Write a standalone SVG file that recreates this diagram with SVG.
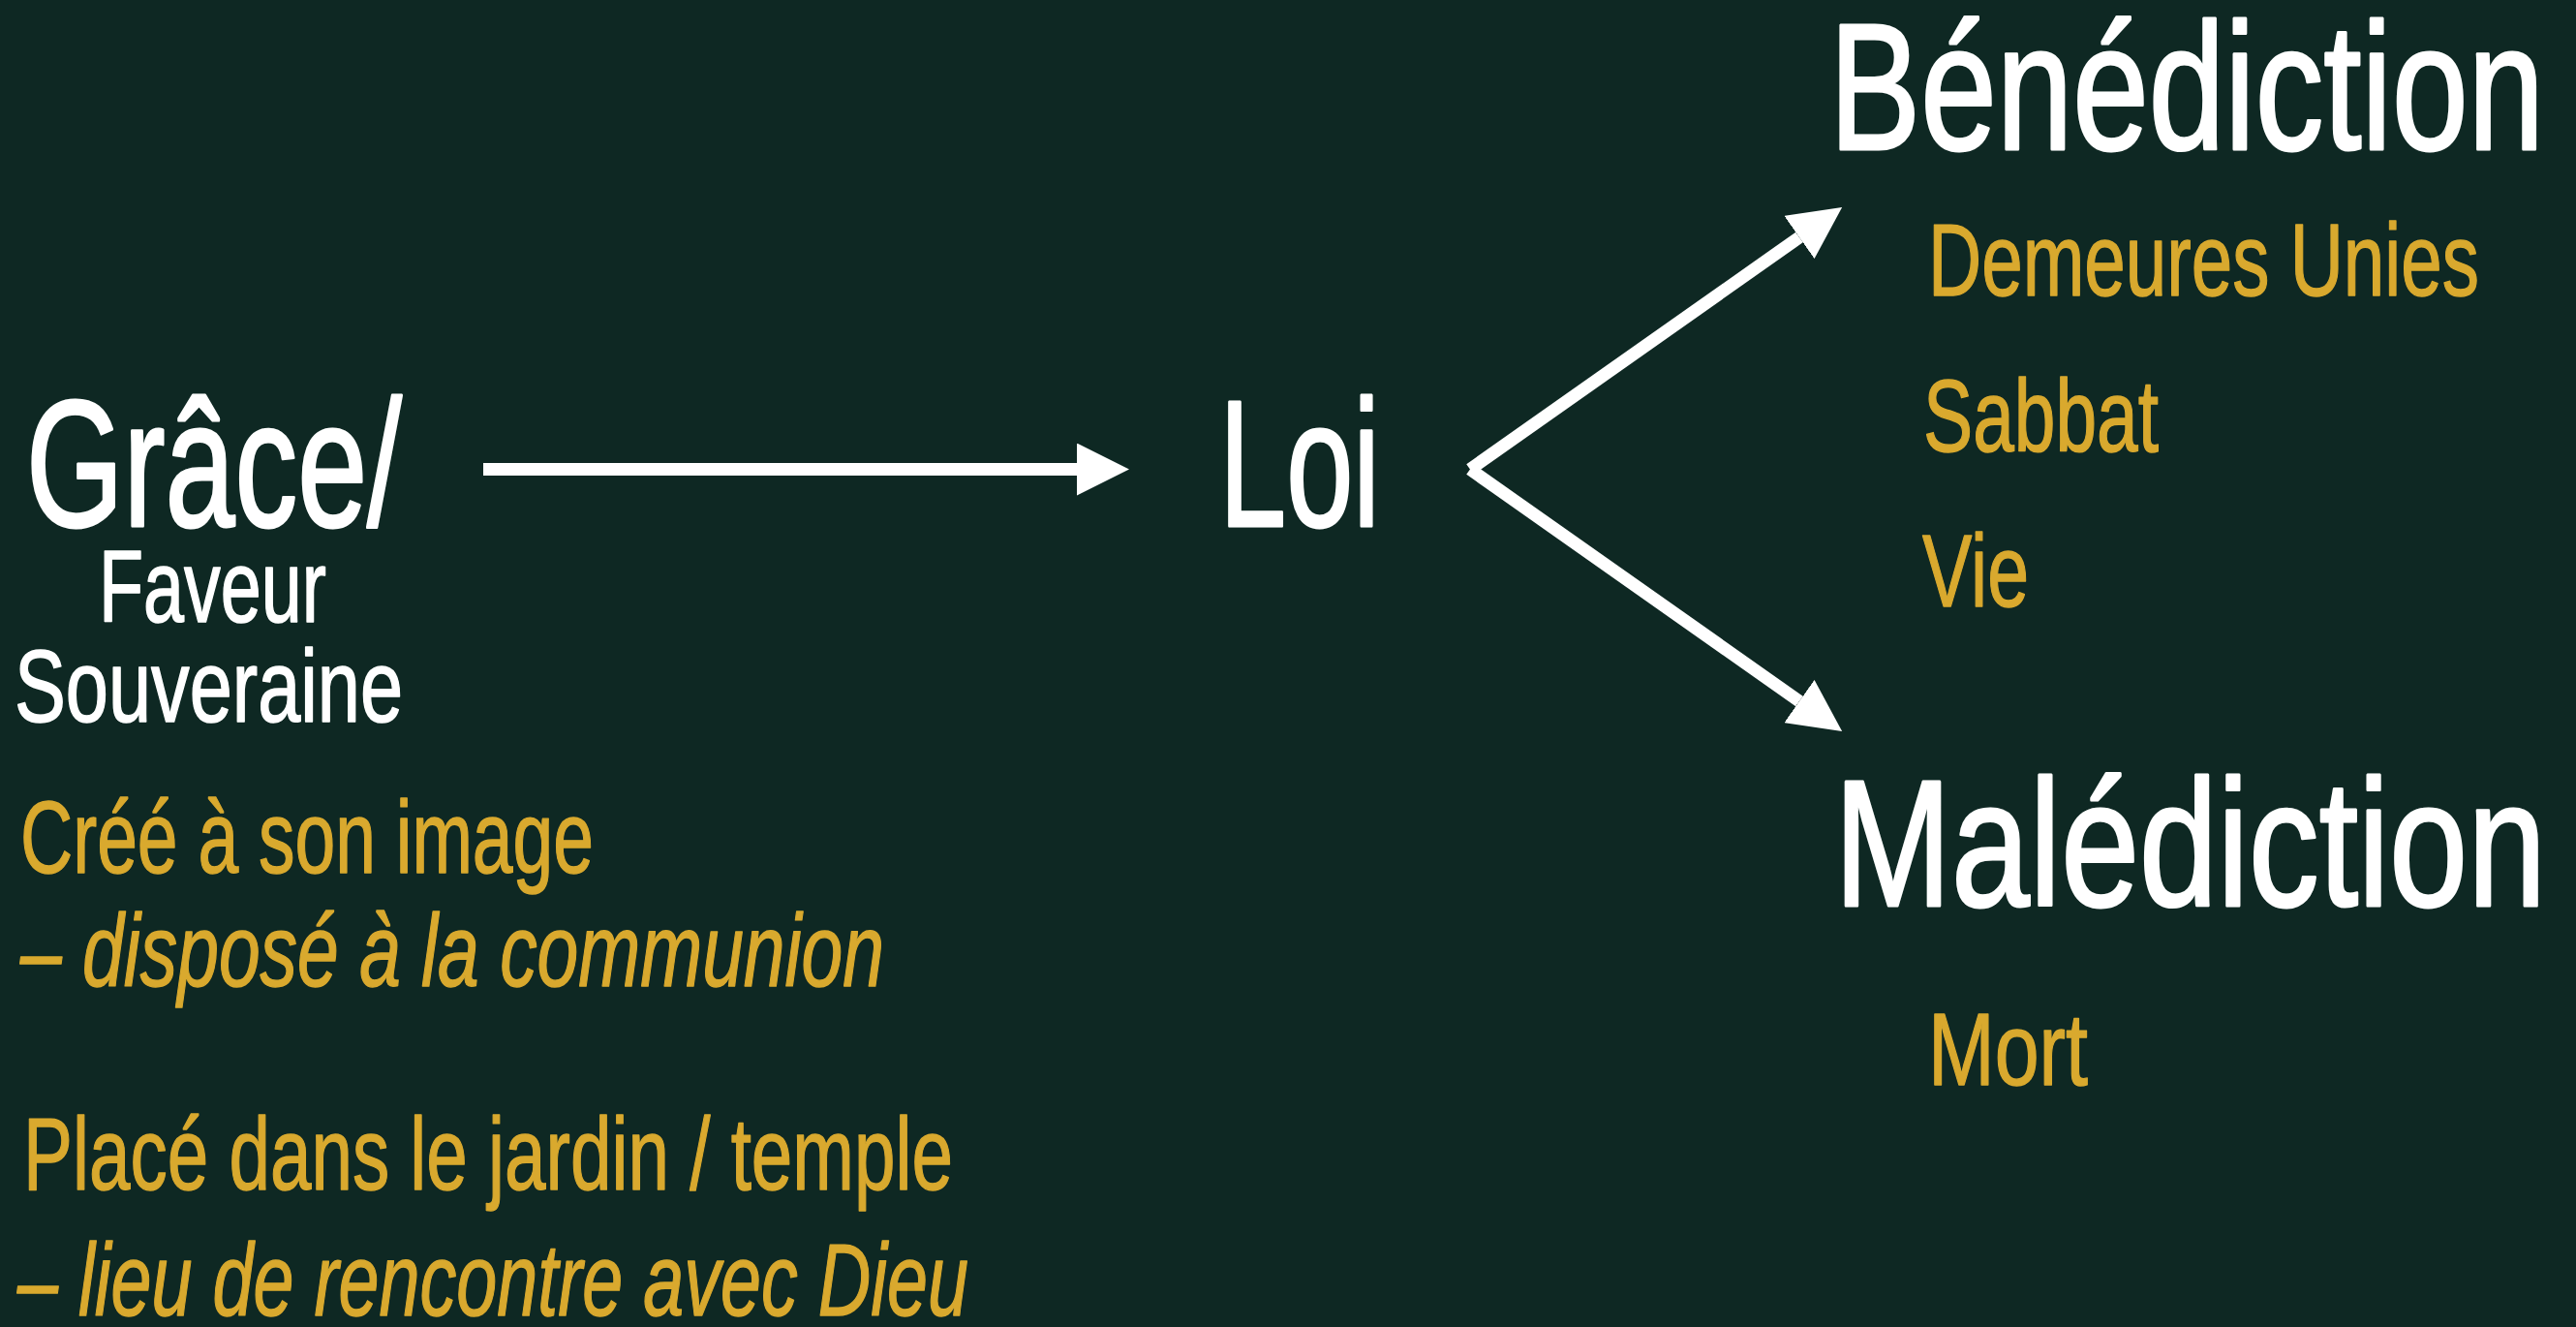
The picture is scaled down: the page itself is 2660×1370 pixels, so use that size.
<svg xmlns="http://www.w3.org/2000/svg" width="2660" height="1370" viewBox="0 0 2660 1370">
  <defs>
    <style>
      text { font-family: "Liberation Sans", Arial, sans-serif; stroke-linejoin: round; }
      .big { fill: #ffffff; stroke: #ffffff; stroke-width: 3; font-size: 185px; }
      .sub { fill: #ffffff; stroke: #ffffff; stroke-width: 1.6; font-size: 105px; }
      .gold { fill: #d9a92e; stroke: #d9a92e; stroke-width: 1.4; font-size: 106px; }
      .it { font-style: italic; }
      .conn { stroke: #ffffff; stroke-width: 13; fill: none; stroke-linecap: butt; }
    </style>
    <marker id="head" markerUnits="userSpaceOnUse" markerWidth="54" markerHeight="54" refX="0" refY="27" orient="auto" viewBox="0 0 54 54">
      <path d="M0,0 L54,27 L0,54 Z" fill="#ffffff"/>
    </marker>
  </defs>
  <rect x="0" y="0" width="2660" height="1370" fill="#0e2823"/>

  <g id="grace">
    <text class="big" x="27" y="543" textLength="388" lengthAdjust="spacingAndGlyphs">Grâce/</text>
    <text class="sub" x="102" y="642" textLength="235" lengthAdjust="spacingAndGlyphs">Faveur</text>
    <text class="sub" x="15" y="745" textLength="401" lengthAdjust="spacingAndGlyphs">Souveraine</text>
  </g>

  <g id="grace-notes">
    <text class="gold" x="21" y="901" textLength="592" lengthAdjust="spacingAndGlyphs">Créé à son image</text>
    <text class="gold it" x="21" y="1018" textLength="892" lengthAdjust="spacingAndGlyphs">– disposé à la communion</text>
    <text class="gold" x="24" y="1228" textLength="960" lengthAdjust="spacingAndGlyphs">Placé dans le jardin / temple</text>
    <text class="gold it" x="18" y="1358" textLength="982" lengthAdjust="spacingAndGlyphs">– lieu de rencontre avec Dieu</text>
  </g>

  <g id="loi">
    <text class="big" x="1259" y="543" textLength="166" lengthAdjust="spacingAndGlyphs">Loi</text>
  </g>

  <g id="benediction">
    <text class="big" x="1889" y="154" textLength="738" lengthAdjust="spacingAndGlyphs">Bénédiction</text>
    <text class="gold" x="1991" y="305" textLength="569" lengthAdjust="spacingAndGlyphs">Demeures Unies</text>
    <text class="gold" x="1986" y="466" textLength="243" lengthAdjust="spacingAndGlyphs">Sabbat</text>
    <text class="gold" x="1985" y="626" textLength="110" lengthAdjust="spacingAndGlyphs">Vie</text>
  </g>

  <g id="malediction">
    <text class="big" x="1894" y="935" textLength="735" lengthAdjust="spacingAndGlyphs">Malédiction</text>
    <text class="gold" x="1991" y="1120" textLength="165" lengthAdjust="spacingAndGlyphs">Mort</text>
  </g>

  <g id="connectors">
    <line class="conn" x1="499" y1="484.5" x2="1112" y2="484.5" marker-end="url(#head)"/>
    <line class="conn" x1="1518" y1="484.5" x2="1858" y2="245" marker-end="url(#head)"/>
    <line class="conn" x1="1518" y1="484.5" x2="1858" y2="724" marker-end="url(#head)"/>
  </g>
</svg>
